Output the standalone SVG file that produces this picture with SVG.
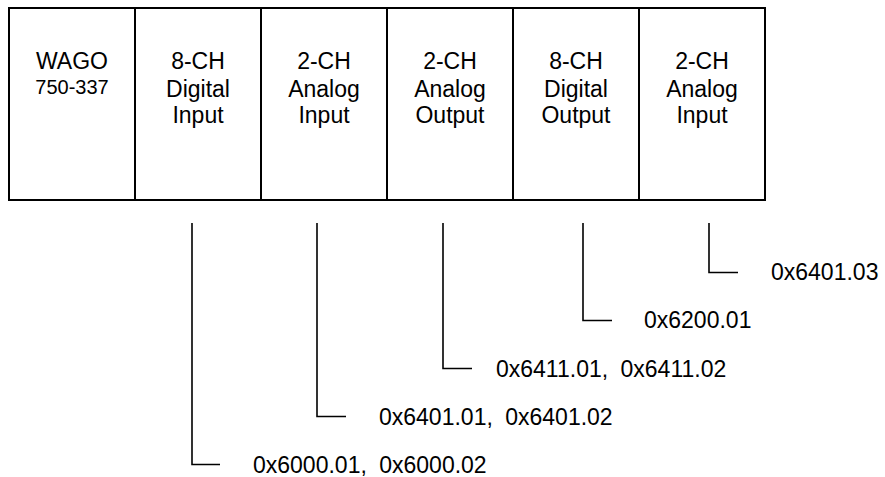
<svg xmlns="http://www.w3.org/2000/svg" width="885" height="477" viewBox="0 0 885 477">
<style>
.box{fill:#fff;stroke:#000;stroke-width:2}
.t{font-family:"Liberation Sans",Arial,sans-serif;font-size:23px;fill:#000;text-anchor:middle}
.s{font-size:20px}
.lbl{font-family:"Liberation Sans",Arial,sans-serif;font-size:23px;fill:#000;word-spacing:6px}
.c{fill:none;stroke:#000;stroke-width:1.6}
</style>
<rect width="885" height="477" fill="#fff"/>
<g id="wago">
<rect class="box" x="9" y="8" width="126" height="192"/>
<text class="t" x="72" y="69">WAGO</text>
<text class="t s" x="72" y="94">750-337</text>
</g>
<g id="di8">
<rect class="box" x="135" y="8" width="126" height="192"/>
<text class="t" x="198" y="69">8-CH</text>
<text class="t" x="198" y="96.5">Digital</text>
<text class="t" x="198" y="123">Input</text>
</g>
<g id="ai2a">
<rect class="box" x="261" y="8" width="126" height="192"/>
<text class="t" x="324" y="69">2-CH</text>
<text class="t" x="324" y="96.5">Analog</text>
<text class="t" x="324" y="123">Input</text>
</g>
<g id="ao2">
<rect class="box" x="387" y="8" width="126" height="192"/>
<text class="t" x="450" y="69">2-CH</text>
<text class="t" x="450" y="96.5">Analog</text>
<text class="t" x="450" y="123">Output</text>
</g>
<g id="do8">
<rect class="box" x="513" y="8" width="126" height="192"/>
<text class="t" x="576" y="69">8-CH</text>
<text class="t" x="576" y="96.5">Digital</text>
<text class="t" x="576" y="123">Output</text>
</g>
<g id="ai2b">
<rect class="box" x="639" y="8" width="126" height="192"/>
<text class="t" x="702" y="69">2-CH</text>
<text class="t" x="702" y="96.5">Analog</text>
<text class="t" x="702" y="123">Input</text>
</g>
<g id="connectors">
<path class="c" d="M192 223V464.5H220"/>
<path class="c" d="M317 223V416.5H346"/>
<path class="c" d="M443 223V368.5H472"/>
<path class="c" d="M583 223V320.5H612"/>
<path class="c" d="M709 223V272.5H738"/>
</g>
<g id="labels">
<text class="lbl" x="253" y="472.5">0x6000.01, 0x6000.02</text>
<text class="lbl" x="379" y="425">0x6401.01, 0x6401.02</text>
<text class="lbl" x="496" y="376.5">0x6411.01, 0x6411.02</text>
<text class="lbl" x="644" y="328">0x6200.01</text>
<text class="lbl" x="771" y="280">0x6401.03</text>
</g>
</svg>
